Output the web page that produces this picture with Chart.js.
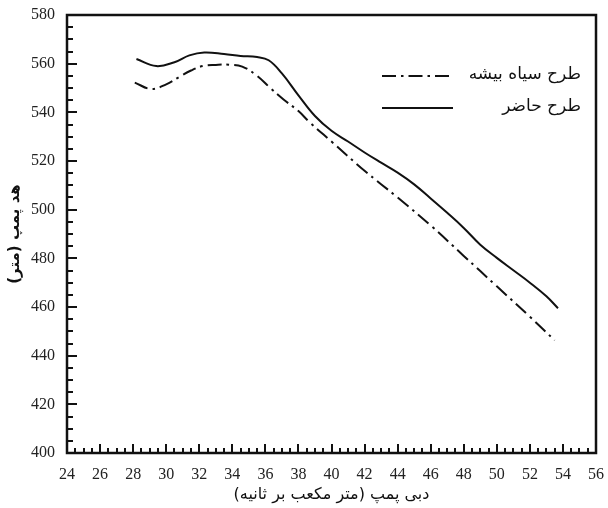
<!DOCTYPE html>
<html>
<head>
<meta charset="utf-8">
<script src="https://cdn.jsdelivr.net/npm/chart.js@4.4.1/dist/chart.umd.min.js"></script>
<style>
  html, body { margin: 0; padding: 0; background: #fff; }
  #wrap { width: 608px; height: 508px; }
</style>
</head>
<body>
<div id="wrap"><canvas id="pump-chart"></canvas></div>
<script>
const ctxEl = document.getElementById('pump-chart');

// flow (x) and head (y)
const flowPresent = [28.2, 29.4, 30.5, 31.4, 32.3, 33.5, 34.5, 35.5, 36.2, 37.0, 38.0, 39.0, 40.0, 41.0, 42.0, 43.0, 44.0, 45.0, 46.0, 47.0, 48.0, 49.0, 50.0, 51.0, 52.0, 53.0, 53.7];
const headPresent = [561.9, 559.0, 560.6, 563.4, 564.6, 564.0, 563.2, 562.7, 561.4, 556.0, 547.0, 538.5, 532.4, 528.0, 523.5, 519.3, 515.2, 510.4, 504.6, 498.7, 492.5, 485.6, 480.2, 475.1, 470.0, 464.4, 459.5];

const flowSiah = [28.1, 29.1, 30.0, 30.8, 31.5, 32.2, 33.0, 33.8, 34.6, 35.5, 36.3, 37.1, 38.0, 38.7, 40.0, 42.0, 44.0, 46.0, 48.0, 50.0, 52.0, 53.5];
const headSiah = [552.2, 549.6, 551.5, 554.6, 557.2, 559.0, 559.5, 559.6, 558.8, 555.0, 550.0, 545.3, 540.5, 535.8, 528.0, 516.0, 505.0, 493.5, 481.0, 468.5, 456.0, 446.3];

const xTicks = [24, 56, 2];
const yTicks = [400, 580, 20];

const labelSiah = 'طرح سیاه بیشه';
const labelPresent = 'طرح حاضر';

const toPoints = (xs, ys) => xs.map((x, i) => ({ x: x, y: ys[i] }));

const dashDot = [14, 5, 2.5, 5];

// inside ticks, frame and legend
const frameTicks = {
  id: 'frameTicks',
  afterDraw(chart) {
    const c = chart.ctx;
    const a = chart.chartArea;
    const sx = chart.scales.x;
    const sy = chart.scales.y;
    c.save();
    c.strokeStyle = '#111';
    c.lineWidth = 2;
    c.beginPath();
    for (let v = yTicks[0]; v <= yTicks[1]; v += 5) {
      const py = Math.round(sy.getPixelForValue(v));
      const len = v % yTicks[2] === 0 ? 10 : 6;
      c.moveTo(a.left, py);
      c.lineTo(a.left + len, py);
    }
    for (let v = xTicks[0]; v <= xTicks[1]; v += 0.5) {
      const px = Math.round(sx.getPixelForValue(v));
      const len = v % xTicks[2] === 0 ? 9 : 5;
      c.moveTo(px, a.bottom);
      c.lineTo(px, a.bottom - len);
    }
    c.stroke();
    c.lineWidth = 2.5;
    c.strokeRect(a.left, a.top, a.right - a.left, a.bottom - a.top);

    // legend
    const items = [
      { text: labelSiah, dash: dashDot, y: a.top + 60 },
      { text: labelPresent, dash: [], y: a.top + 92 }
    ];
    c.font = '17px "DejaVu Sans"';
    c.textAlign = 'right';
    c.textBaseline = 'middle';
    c.fillStyle = '#111';
    items.forEach(it => {
      c.beginPath();
      c.lineWidth = 2;
      c.setLineDash(it.dash);
      c.moveTo(a.left + 315, it.y + 1);
      c.lineTo(a.left + 386, it.y + 1);
      c.stroke();
      c.setLineDash([]);
      c.fillText(it.text, a.right - 15, it.y);
    });
    c.restore();
  }
};

new Chart(ctxEl, {
  type: 'line',
  data: {
    datasets: [{
      label: labelSiah,
      data: toPoints(flowSiah, headSiah),
      borderColor: '#111',
      borderWidth: 2,
      borderDash: dashDot,
      pointRadius: 0,
      tension: 0.4,
      fill: false
    }, {
      label: labelPresent,
      data: toPoints(flowPresent, headPresent),
      borderColor: '#111',
      borderWidth: 2,
      pointRadius: 0,
      tension: 0.4,
      fill: false
    }]
  },
  options: {
    responsive: true,
    maintainAspectRatio: false,
    animation: false,
    layout: { padding: { top: 15, right: 6, left: 0, bottom: 0 } },
    plugins: {
      legend: { display: false },
      tooltip: { enabled: false }
    },
    scales: {
      x: {
        type: 'linear',
        min: xTicks[0],
        max: xTicks[1],
        grid: { display: false },
        border: { display: false },
        ticks: {
          stepSize: xTicks[2],
          padding: 4,
          color: '#222',
          font: { family: '"Liberation Serif"', size: 16 }
        },
        title: {
          display: true,
          text: 'دبی پمپ (متر مکعب بر ثانیه)',
          color: '#111',
          font: { family: '"DejaVu Sans"', size: 16 },
          padding: { top: 4 }
        },
        afterFit(scale) { scale.height = 55; }
      },
      y: {
        min: yTicks[0],
        max: yTicks[1],
        grid: { display: false },
        border: { display: false },
        ticks: {
          stepSize: yTicks[2],
          padding: 4,
          color: '#222',
          font: { family: '"Liberation Serif"', size: 16 }
        },
        title: {
          display: true,
          text: 'هد پمپ (متر)',
          color: '#111',
          font: { family: '"DejaVu Sans"', size: 15, weight: 'bold' },
          padding: { top: 6, bottom: 0 }
        },
        afterFit(scale) { scale.width = 67; }
      }
    }
  },
  plugins: [frameTicks]
});
</script>
</body>
</html>
